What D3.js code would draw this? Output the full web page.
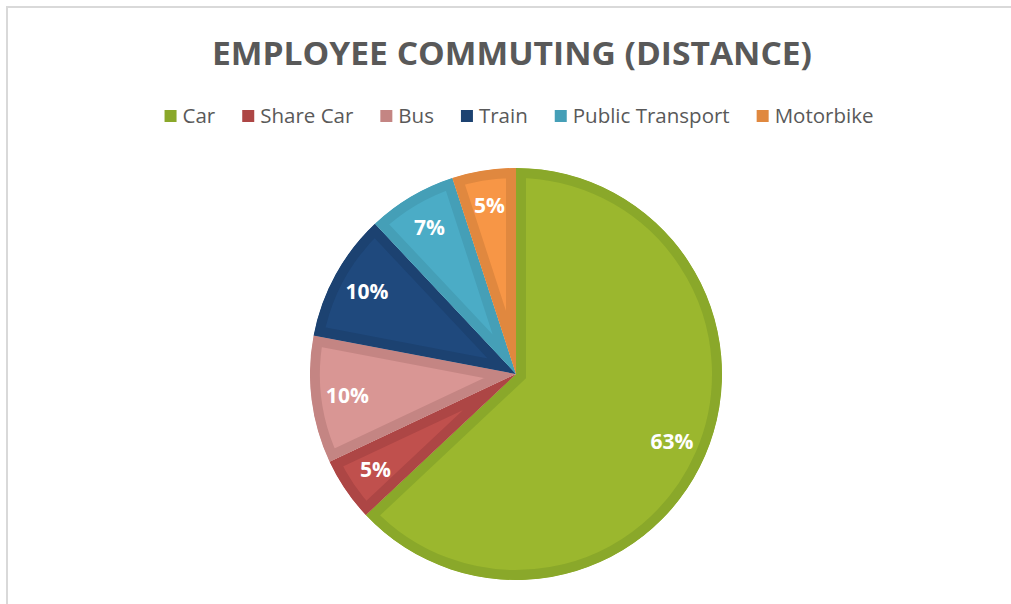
<!DOCTYPE html>
<html>
<head>
<meta charset="utf-8">
<script src="https://cdn.jsdelivr.net/npm/d3@7"></script>
<style>
  body { margin: 0; background: #fff; }
  svg { display: block; }
</style>
</head>
<body>
<div id="chart"></div>
<script>
// data
var categories = ['Car', 'Share Car', 'Bus', 'Train', 'Public Transport', 'Motorbike'];
var shares = [63, 5, 10, 10, 7, 5];
var fillColors = ['#9bb72e', '#c0504d', '#d99694', '#1f497d', '#4bacc6', '#f79646'];
var edgeColors = ['#8aa82a', '#ad4645', '#c48583', '#1c4271', '#459fb7', '#e0883f'];

var width = 1011;
var height = 604;
var cx = 516, cy = 374;
var radius = 206;
var edgeWidth = 10;

var svg = d3.select('#chart')
  .append('svg')
  .attr('width', width)
  .attr('height', height);

// chart frame (only top/left visible)
svg.append('rect')
  .attr('x', 7).attr('y', 7)
  .attr('width', width + 20).attr('height', height + 20)
  .attr('fill', '#fff')
  .attr('stroke', '#d9d9d9')
  .attr('stroke-width', 2);

// title
var title = svg.append('text')
  .attr('x', 512)
  .attr('y', 65)
  .attr('text-anchor', 'middle')
  .style('font-family', '"Open Sans", sans-serif')
  .style('font-weight', 'bold')
  .style('font-size', '33px')
  .style('fill', '#595959')
  .text('EMPLOYEE COMMUTING (DISTANCE)');
title.attr('textLength', 600).attr('lengthAdjust', 'spacingAndGlyphs');

// legend
var legendRect = 12;
var legendGap = 6;
var itemGap = 27;
var legend = svg.append('g').attr('class', 'legend');
var items = legend.selectAll('g')
  .data(categories)
  .enter()
  .append('g');

items.append('rect')
  .attr('width', legendRect)
  .attr('height', legendRect)
  .attr('y', -legendRect / 2)
  .attr('fill', function(d, i) { return edgeColors[i]; });

items.append('text')
  .attr('x', legendRect + legendGap)
  .attr('y', 7)
  .style('font-family', '"Open Sans", sans-serif')
  .style('font-size', '20.5px')
  .style('fill', '#595959')
  .text(function(d) { return d; });

var xpos = 0;
items.each(function(d, i) {
  var w = legendRect + legendGap + this.querySelector('text').getComputedTextLength();
  d3.select(this).attr('transform', 'translate(' + xpos + ',0)');
  xpos += w + itemGap;
});
var legendWidth = xpos - itemGap;
legend.attr('transform', 'translate(' + (519 - legendWidth / 2) + ',116)');

// pie
var pie = d3.pie().value(function(d) { return d; }).sort(null);
var arc = d3.arc().innerRadius(0).outerRadius(radius);
var labelArc = d3.arc().innerRadius(170).outerRadius(170);

var g = svg.append('g')
  .attr('transform', 'translate(' + cx + ',' + cy + ')');

var defs = svg.append('defs');
var arcs = pie(shares);

defs.selectAll('clipPath')
  .data(arcs)
  .enter()
  .append('clipPath')
  .attr('id', function(d, i) { return 'slice' + i; })
  .append('path')
  .attr('d', arc);

// fill with an inner border (stroke clipped to the slice)
g.selectAll('path.slice')
  .data(arcs)
  .enter()
  .append('path')
  .attr('class', 'slice')
  .attr('d', arc)
  .attr('fill', function(d, i) { return fillColors[i]; })
  .attr('stroke', function(d, i) { return edgeColors[i]; })
  .attr('stroke-width', edgeWidth * 2)
  .attr('stroke-linejoin', 'miter')
  .attr('clip-path', function(d, i) { return 'url(#slice' + i + ')'; });

g.selectAll('text.lbl')
  .data(arcs)
  .enter()
  .append('text')
  .attr('class', 'lbl')
  .attr('transform', function(d) { return 'translate(' + labelArc.centroid(d) + ')'; })
  .attr('text-anchor', 'middle')
  .attr('dy', '0.35em')
  .style('font-family', '"Open Sans", sans-serif')
  .style('font-weight', 'bold')
  .style('font-size', '21px')
  .style('fill', '#fff')
  .text(function(d) { return d.data + '%'; });
</script>
</body>
</html>
